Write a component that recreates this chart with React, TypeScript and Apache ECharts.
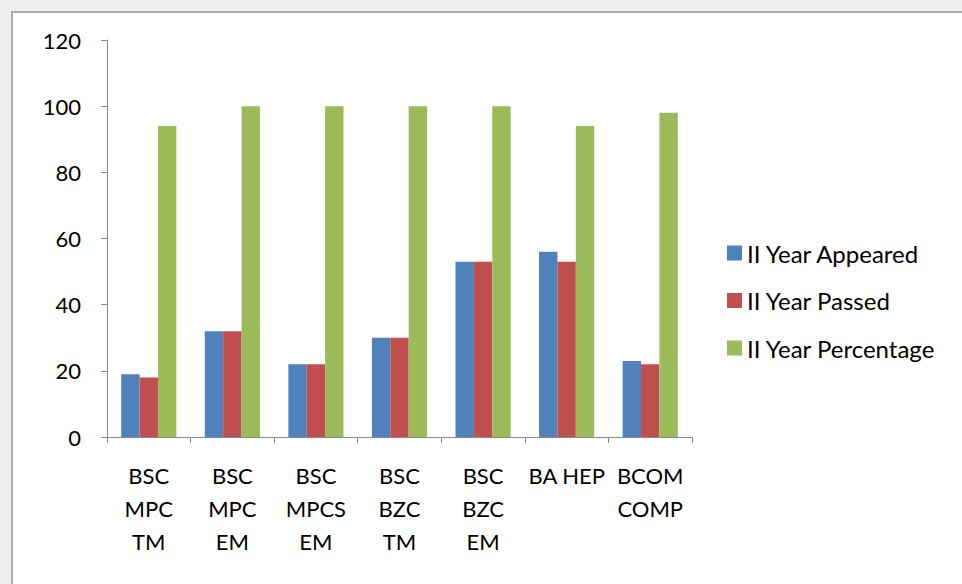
import React, { useEffect, useRef } from "react";
import * as echarts from "echarts";

const categories = ["BSC\nMPC\nTM", "BSC\nMPC\nEM", "BSC\nMPCS\nEM", "BSC\nBZC\nTM", "BSC\nBZC\nEM", "BA HEP", "BCOM\nCOMP"];
const appeared = [19, 32, 22, 30, 53, 56, 23];
const passed = [18, 32, 22, 30, 53, 53, 22];
const percentage = [94, 100, 100, 100, 100, 94, 98];
const seriesNames = ["II Year Appeared", "II Year Passed", "II Year Percentage"];
const colors = ["#4F81BD", "#C0504D", "#9BBB59"];

const FONT = "Lato, 'Open Sans', sans-serif";

export default function App() {
  const ref = useRef<HTMLDivElement>(null);
  useEffect(() => {
    if (!ref.current) return;
    const chart = echarts.init(ref.current, undefined, { renderer: "svg" });
    const data = [appeared, passed, percentage];
    chart.setOption({
      animation: false,
      textStyle: { fontFamily: FONT },
      grid: { left: 107, top: 40, right: 270, bottom: 147, containLabel: false },
      legend: {
        orient: "vertical",
        left: 722,
        top: 236,
        itemWidth: 15,
        itemHeight: 15,
        itemGap: 23.5,
        icon: "rect",
        textStyle: { fontFamily: FONT, fontSize: 24, color: "#000" },
        data: seriesNames,
      },
      xAxis: {
        type: "category",
        data: categories,
        axisLine: { lineStyle: { color: "#888", width: 1 } },
        axisTick: { show: true, length: 6, lineStyle: { color: "#888" } },
        axisLabel: {
          interval: 0,
          color: "#000",
          fontFamily: FONT,
          fontSize: 22,
          lineHeight: 33,
          margin: 22,
        },
      },
      yAxis: {
        type: "value",
        min: 0,
        max: 120,
        interval: 20,
        splitLine: { show: false },
        axisLine: { show: true, lineStyle: { color: "#888", width: 1 } },
        axisTick: { show: true, length: 6, lineStyle: { color: "#888" } },
        axisLabel: { color: "#000", fontFamily: FONT, fontSize: 22, margin: 26 },
      },
      series: seriesNames.map((name, i) => ({
        name,
        type: "bar",
        data: data[i],
        barGap: "0%",
        barCategoryGap: "34%",
        itemStyle: { color: colors[i] },
      })),
    });
    return () => chart.dispose();
  }, []);
  return (
    <div style={{ position: "fixed", left: 0, top: 0, width: 962, height: 584, background: "#eeeeee", overflow: "hidden" }}>
      <div
        style={{
          position: "absolute",
          left: 11,
          top: 11,
          width: 962,
          height: 584,
          background: "#fff",
          borderLeft: "2px solid #aaaaaa",
          borderTop: "2px solid #aaaaaa",
        }}
      />
      <div ref={ref} style={{ position: "absolute", left: 0, top: 0, width: 962, height: 584 }} />
    </div>
  );
}
